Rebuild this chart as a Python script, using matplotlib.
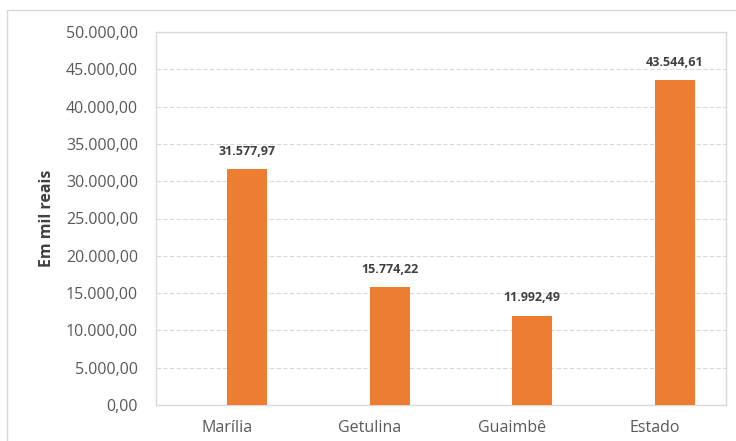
import numpy as np
import matplotlib
matplotlib.use('Agg')
from matplotlib import pyplot as plt
from matplotlib.patches import Rectangle
from matplotlib.ticker import FuncFormatter

categories = ['Marília', 'Getulina', 'Guaimbê', 'Estado']
values = [31577.97, 15774.22, 11992.49, 43544.61]


def br(v, pos=None):
    s = f"{v:,.2f}"
    return s.replace(',', 'X').replace('.', ',').replace('X', '.')


plt.rcParams['font.family'] = ['Open Sans', 'DejaVu Sans']

fig = plt.figure(figsize=(7.36, 4.41), dpi=100)
W, H = 736, 441
ax = fig.add_axes([156 / W, 1 - 405 / H, (726 - 156) / W, (405 - 32) / H])

# outer chart border
fig.patches.append(Rectangle((7 / W, -0.1), 1.2, (1 - 10 / H) + 0.1,
                             transform=fig.transFigure, fill=False,
                             edgecolor='#d9d9d9', linewidth=1.0))

x = np.arange(len(categories))
ax.bar(x + 0.14, values, width=0.28, color='#ED7D31', zorder=3)

for xi, v in zip(x, values):
    ax.annotate(br(v), (xi + 0.14, v), xytext=(0, 8), textcoords='offset points',
                ha='center', va='bottom', fontsize=9, fontweight='bold',
                color='#404040')

ax.set_xlim(-0.5, 3.5)
ax.set_ylim(0, 50000)
ax.set_yticks(np.arange(0, 50001, 5000))
ax.yaxis.set_major_formatter(FuncFormatter(br))
ax.set_xticks(x)
ax.set_xticklabels(categories)

ax.grid(True, axis='y', linestyle=(0, (4, 2)), linewidth=0.8, color='#d9d9d9', zorder=0)
ax.set_axisbelow(True)
for s in ax.spines.values():
    s.set_color('#d9d9d9')
    s.set_linewidth(1.0)
ax.tick_params(axis='both', length=0, labelsize=11.5, colors='#595959')
ax.tick_params(axis='y', pad=13)
ax.tick_params(axis='x', pad=11)

ax.set_ylabel('Em mil reais', fontsize=11.5, fontweight='bold', color='#404040', labelpad=8)

fig.savefig('out.png', dpi=100)
